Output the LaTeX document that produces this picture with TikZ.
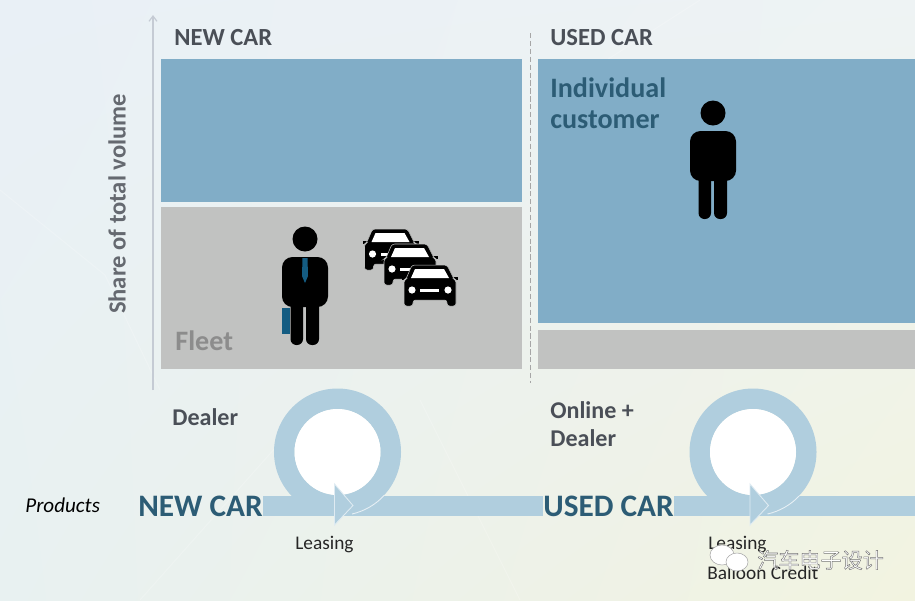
\documentclass[tikz,border=0pt]{standalone}
\usepackage{fontspec}
\setmainfont{Carlito}
\newfontfamily\cjkfont{Noto Sans CJK SC}
\usetikzlibrary{arrows.meta,positioning,shadings}
\definecolor{blockblue}{RGB}{129,173,199}
\definecolor{blockgray}{RGB}{193,194,193}
\definecolor{loopblue}{RGB}{176,206,222}
\definecolor{titlegray}{RGB}{74,79,87}
\definecolor{axisgray}{RGB}{197,203,212}
\definecolor{deepteal}{RGB}{44,92,117}
\definecolor{tieblue}{RGB}{20,92,130}
\definecolor{paperNW}{RGB}{233,240,246}
\definecolor{paperNE}{RGB}{238,243,244}
\definecolor{paperSW}{RGB}{232,241,241}
\definecolor{paperSE}{RGB}{242,243,224}
\newcommand{\outlined}[1]{\special{pdf:code q 2 Tr 0.25 w 0.45 G 1 g}#1\special{pdf:code Q}}
\tikzset{
    headtext/.style={anchor=west, inner sep=0pt, text=titlegray, font=\fontsize{14}{16}\selectfont\bfseries},
    bigtext/.style={anchor=west, inner sep=0pt, text=deepteal, font=\fontsize{16}{17.5}\selectfont\bfseries, align=left},
    bartext/.style={anchor=west, inner sep=0pt, text=deepteal, font=\fontsize{17.8}{18}\selectfont\bfseries},
    saletext/.style={anchor=west, inner sep=0pt, text=titlegray, font=\fontsize{13.7}{16}\selectfont\bfseries, align=left},
    smalltext/.style={anchor=west, inner sep=0pt, text=black!85, font=\fontsize{11}{12}\selectfont},
    barline/.style={loopblue, line width=0.4cm},
    pics/person/.style={code={
        \fill (0,-93) circle [radius=12.5];
        \fill[rounded corners=6pt] (-23,-75) rectangle (23,-25);
        \fill[rounded corners=3.4pt] (-14.5,-40) rectangle (-2,13);
        \fill[rounded corners=3.4pt] (1,-40) rectangle (14,13);
    }},
    pics/car/.style={code={
        \fill (-2,11.5) rectangle (4,15);
        \fill (48,11.5) rectangle (54,15);
        \filldraw[draw=blockgray, line width=0.3pt, rounded corners=1.5pt] (2,14) -- (8,0) -- (43,0) -- (50,14) -- (52,15) -- (52,41) -- (43,41) -- (43,35) -- (9,35) -- (9,41) -- (0,41) -- (0,15) -- cycle;
        \fill[white] (7,13) -- (11,4) -- (40,4) -- (45,13) -- cycle;
        \fill[white] (8,25) circle [radius=3.6];
        \fill[white] (44,25) circle [radius=3.6];
        \fill[white] (16,23.5) rectangle (35,26.5);
    }},
    pics/loop/.style={code={
        \begin{scope}
            \clip (-70,-70) rectangle (70,44) (-3,44) rectangle (70,70);
            \fill[loopblue, even odd rule] (0,0) circle [radius=63.5] (0,0) circle [radius=43];
        \end{scope}
        \fill[white] (0,0) circle [radius=43];
        \fill[loopblue] (-3,44) rectangle (12,64);
        \draw[white!70!loopblue, line width=0.5pt] (14.5,62) arc [start angle=77, end angle=43, radius=63.5];
        \draw[white!60!loopblue, line width=0.5pt, fill=loopblue] (-3,32) -- (15.5,53.5) -- (-3,73) -- cycle;
    }}
}

\begin{document}
\begin{tikzpicture}[x=0.02cm, y=-0.02cm]
    \useasboundingbox (0,0) rectangle (915,600);
    % background
    \shade[upper left=paperNW, upper right=paperNE, lower left=paperSW, lower right=paperSE] (0,0) rectangle (915,600);
    \draw[white, opacity=0.2, line width=0.6pt] (0,190) -- (105,275) -- (160,390) (420,400) -- (520,600) (700,0) -- (560,90) (140,600) -- (300,420);

    \coordinate (axisbottom) at (153,390);
    \coordinate (axistop) at (153,15);
    \coordinate (dividertop) at (530,33);
    \coordinate (dividerbottom) at (530,383);
    \coordinate (barend) at (915,506);

    \fill[blockblue] (161,59) rectangle (522,202);
    \fill[blockgray] (161,207) rectangle (522,369);
    \fill[blockblue] (538,59) rectangle (915,323);
    \fill[blockgray] (538,330) rectangle (915,369);

    \draw[axisgray, line width=0.7pt, -{Straight Barb[length=3pt,width=4.5pt]}] (axisbottom) -- (axistop);
    \draw[black!35, line width=0.5pt, dash pattern=on 3pt off 1.5pt] (dividertop) -- (dividerbottom);

    \node[headtext] (newhead) at (174,38) {NEW CAR};
    \node[headtext] (usedhead) at (550,38) {USED CAR};
    \node[headtext, text=titlegray!85, rotate=90, anchor=center] (share) at (117,204) {Share of total volume};
    \node[bigtext] (individual) at (550,103) {Individual\\customer};
    \node[bigtext, text=black!45] (fleet) at (175,341) {Fleet};
    \node[saletext] (dealer) at (172,417) {Dealer};
    \node[saletext] (online) at (550,424) {Online +\\Dealer};

    % people
    \pic at (713,206) {person};
    \pic at (305,332) {person};
    \fill[tieblue] (302.5,258) -- (307.5,258) -- (308,276) -- (305,283) -- (302,276) -- cycle;
    \fill[tieblue] (282,308) rectangle (289.5,334);

    % cars
    \pic at (364.5,229) {car};
    \pic at (384,244) {car};
    \pic at (404,265) {car};

    % products bar
    \node[bartext] (newcar) at (138,506) {NEW CAR};
    \node[bartext] (usedcar) at (543,506) {USED CAR};
    \draw[barline] (newcar.east |- barend) -- (usedcar.west |- barend);
    \draw[barline] (usedcar.east |- barend) -- (barend);
    \pic at (337.5,452) {loop};
    \pic at (753,452) {loop};

    \node[anchor=west, inner sep=0pt, text=black, font=\fontsize{12}{12}\selectfont\itshape] (products) at (25,505) {Products};
    \node[smalltext] (leasingnew) at (295,544) {Leasing};
    \node[smalltext] (leasingused) at (708,544) {Leasing};
    \node[smalltext] (balloon) at (707,573) {Balloon Credit};

    % watermark
    \fill[white, draw=black!35, line width=0.3pt] (722,555) ellipse [x radius=12, y radius=10];
    \fill[white, draw=black!35, line width=0.3pt] (737,562) ellipse [x radius=11, y radius=9];
    \node[anchor=west, inner sep=0pt, font=\cjkfont\fontsize{12}{12}\selectfont] (mark) at (757,560) {\outlined{汽车电子设计}};
\end{tikzpicture}
\end{document}
